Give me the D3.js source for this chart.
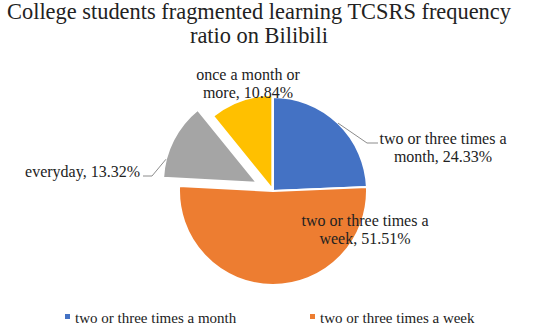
<!DOCTYPE html>
<html>
<head>
<meta charset="utf-8">
<script src="https://cdn.jsdelivr.net/npm/d3@7"></script>
<style>
  body { margin: 0; background: #fff; }
  text { font-family: "Liberation Serif", "Times New Roman", serif; fill: #222; }
</style>
</head>
<body>
<svg id="chart" width="550" height="336"></svg>
<script>
// data
const categories = ["two or three times a month", "two or three times a week", "everyday", "once a month or more"];
const values = [24.33, 51.51, 13.32, 10.84];
const colors = ["#4472C4", "#ED7D31", "#A5A5A5", "#FFC000"];
const titleLines = ["College students fragmented learning TCSRS frequency", "ratio on Bilibili"];
const legendItems = [0, 1]; // only first two fit in the legend row

// layout
const width = 550, height = 336;
const cx = 273, cy = 191, radius = 94;
const explode = [0, 0, 18, 2];

const svg = d3.select("#chart");

// title
svg.append("g").selectAll("text")
  .data(titleLines)
  .join("text")
  .attr("x", width / 2 - 16)
  .attr("y", (d, i) => 19 + i * 24)
  .attr("text-anchor", "middle")
  .style("font-size", "22.4px")
  .text(d => d);

const pie = d3.pie().sort(null).value(d => d);
const arcs = pie(values);
const arc = d3.arc().innerRadius(0).outerRadius(radius);

// offset of each exploded slice
function shift(d, i) {
  const a = (d.startAngle + d.endAngle) / 2;
  return [Math.sin(a) * explode[i], -Math.cos(a) * explode[i]];
}

const g = svg.append("g").attr("transform", `translate(${cx},${cy})`);

g.selectAll("path")
  .data(arcs)
  .join("path")
  .attr("d", arc)
  .attr("transform", (d, i) => `translate(${shift(d, i)})`)
  .attr("fill", (d, i) => colors[i])
  .attr("stroke", "#fff")
  .attr("stroke-width", 2);

// label placement relative to pie center
const labelLayout = [
  { x: 170, y: -47, anchor: "middle", lines: ["two or three times a", "month, " + values[0].toFixed(2) + "%"] },
  { x: 92, y: 35, anchor: "middle", lines: ["two or three times a", "week, " + values[1].toFixed(2) + "%"] },
  { x: -133, y: -14, anchor: "end", lines: ["everyday, " + values[2].toFixed(2) + "%"] },
  { x: -25, y: -111, anchor: "middle", lines: ["once a month or", "more, " + values[3].toFixed(2) + "%"] }
];

// leader lines: attach angle fraction inside slice, elbow and end point
const leaders = [
  { frac: 0.5, elbow: [94, -48], end: [105, -48] },
  null,
  { frac: 0.24, elbow: [-121, -15], end: [-130, -15] },
  null
];

arcs.forEach((d, i) => {
  const L = leaders[i];
  if (!L) return;
  const a = d.startAngle + (d.endAngle - d.startAngle) * L.frac;
  const s = shift(d, i);
  const p0 = [s[0] + Math.sin(a) * radius, s[1] - Math.cos(a) * radius];
  g.append("path")
    .attr("d", d3.line()([p0, L.elbow, L.end]))
    .attr("fill", "none")
    .attr("stroke", "#8c8c8c")
    .attr("stroke-width", 1);
});

labelLayout.forEach(l => {
  const t = g.append("text")
    .attr("text-anchor", l.anchor)
    .style("font-size", "16px");
  l.lines.forEach((ln, j) => {
    t.append("tspan").attr("x", l.x).attr("y", l.y + j * 18).text(ln);
  });
});

// legend
const legend = svg.append("g").selectAll("g")
  .data(legendItems)
  .join("g")
  .attr("transform", (d, i) => `translate(${65 + i * 245},323)`);

legend.append("rect")
  .attr("x", 0).attr("y", -9)
  .attr("width", 5).attr("height", 5)
  .attr("fill", d => colors[d]);

legend.append("text")
  .attr("x", 10).attr("y", 0)
  .style("font-size", "15px")
  .text(d => categories[d]);
</script>
</body>
</html>
